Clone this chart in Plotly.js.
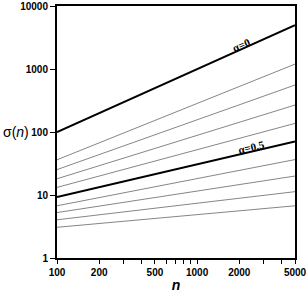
<!DOCTYPE html>
<html>
<head>
<meta charset="utf-8">
<script src="https://cdn.plot.ly/plotly-3.0.1.min.js"></script>
<style>html,body{margin:0;padding:0;background:#fff;}#chart{width:307px;height:293px;}</style>
</head>
<body>
<div id="chart"></div>
<script>
// n values (line endpoints, straight lines on log-log)
var nValues = [100, 5000];
// sigma(n), one array per curve
var alpha0   = [100, 4950];
var alpha01  = [36.2, 1196];
var alpha02  = [25.3, 557];
var alpha03  = [18.1, 268];
var alpha04  = [13.2, 137];
var alpha05  = [9.3, 70.7];
var alpha06  = [6.74, 36.5];
var alpha07  = [5.26, 20.0];
var alpha08  = [4.04, 11.3];
var alpha09  = [3.07, 6.74];

var thinSeries = [alpha01, alpha02, alpha03, alpha04, alpha06, alpha07, alpha08, alpha09];
var boldSeries = [alpha0, alpha05];
var boldLabels = ['α=0', 'α=0.5'];

var xTickVals = [100,200,300,400,500,600,700,800,900,1000,2000,3000,4000,5000];
var xTickText = ['100','200','','','500','','','','','1000','2000','','','5000'];
var yTickVals = [1,10,100,1000,10000];
var yTickText = ['1','10','100','1000','10000'];

var traces = [];
thinSeries.forEach(function(s){
  traces.push({x:nValues, y:s, mode:'lines', line:{color:'#666', width:0.8}, hoverinfo:'none', showlegend:false});
});
boldSeries.forEach(function(s){
  traces.push({x:nValues, y:s, mode:'lines', line:{color:'#000', width:2}, hoverinfo:'none', showlegend:false});
});

// label positions computed along each bold line (log interpolation)
function along(s, n){
  var t = (Math.log10(n)-Math.log10(nValues[0]))/(Math.log10(nValues[1])-Math.log10(nValues[0]));
  return Math.log10(s[0]) + t*(Math.log10(s[1])-Math.log10(s[0]));
}
var labelN = [2050, 2450];
var labelAngle = [-24, -13];
var annotations = boldSeries.map(function(s,i){
  return {x:Math.log10(labelN[i]), y:along(s,labelN[i]), xref:'x', yref:'y', text:boldLabels[i], showarrow:false,
    textangle:labelAngle[i], yshift:5, font:{family:'Liberation Serif', size:11, color:'#000', weight:'bold'}};
});
annotations.push({x:-0.235, y:0.5, xref:'paper', yref:'paper', xanchor:'left', yanchor:'middle', showarrow:false,
  text:'σ(<i>n</i>)', font:{family:'Liberation Sans', size:14, color:'#000'}});

var layout = {
  width:307, height:293,
  margin:{l:57, r:12, t:6, b:35, pad:0},
  paper_bgcolor:'#fff', plot_bgcolor:'#fff',
  xaxis:{type:'log', range:[2, Math.log10(5000)], tickmode:'array', tickvals:xTickVals, ticktext:xTickText,
    ticks:'outside', ticklen:4, tickwidth:1, tickcolor:'#000', showgrid:false, zeroline:false,
    showline:true, linecolor:'#000', linewidth:2, mirror:true,
    tickfont:{family:'Liberation Sans', size:10, color:'#000', weight:'bold'},
    title:{text:'<i><b>n</b></i>', font:{family:'Liberation Sans', size:14, color:'#000'}, standoff:4}},
  yaxis:{type:'log', range:[0,4], tickmode:'array', tickvals:yTickVals, ticktext:yTickText,
    ticks:'outside', ticklen:5, tickwidth:1, tickcolor:'#000', showgrid:false, zeroline:false,
    showline:true, linecolor:'#000', linewidth:2, mirror:true,
    tickfont:{family:'Liberation Sans', size:10, color:'#000', weight:'bold'}},
  annotations:annotations
};
Plotly.newPlot('chart', traces, layout, {staticPlot:true, displayModeBar:false});
</script>
</body>
</html>
